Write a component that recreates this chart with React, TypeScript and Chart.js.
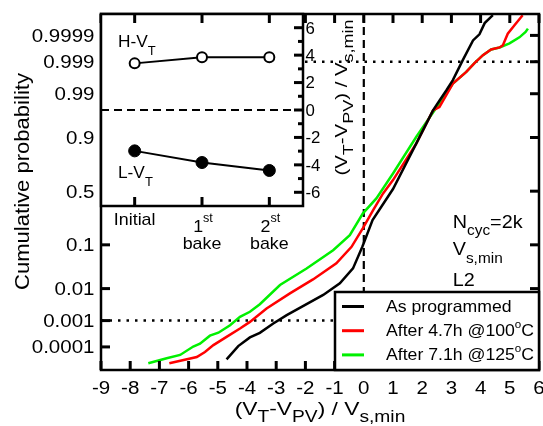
import React, { useEffect, useRef } from "react";
import { Chart, registerables } from "chart.js";

Chart.register(...registerables);

// ---------- data ----------
const xTicks = [-9, -8, -7, -6, -5, -4, -3, -2, -1, 0, 1, 2, 3, 4, 5, 6];
const probTicks = [0.0001, 0.001, 0.01, 0.1, 0.5, 0.9, 0.99, 0.999, 0.9999];
const probTickLabels = ["0.0001", "0.001", "0.01", "0.1", "0.5", "0.9", "0.99", "0.999", "0.9999"];
const guideProbs = [0.001, 0.999];
const guideX = 0;

const blackX = [-4.7, -4.3, -3.9, -3.56, -3.1, -2.64, -1.96, -1.39, -0.82, -0.37, -0.05, 0.3, 1.0, 1.8, 2.37, 2.6, 2.83, 3.05, 3.39, 3.74, 3.96, 4.14, 4.42];
const blackP = [2.95e-5, 1.08e-4, 2.4e-4, 3.6e-4, 7.9e-4, 1.54e-3, 3.5e-3, 6.6e-3, 0.0139, 0.0325, 0.092, 0.245, 0.52, 0.873, 0.9732, 0.985, 0.992, 0.996, 0.99912, 0.99984, 0.99991, 0.99997, 0.9999867];

const redX = [-6.66, -5.72, -5.44, -5.15, -4.7, -4.24, -3.9, -3.33, -2.53, -1.74, -0.94, -0.42, -0.03, 0.32, 0.66, 1.0, 1.8, 2.37, 2.59, 3.05, 3.51, 3.79, 4.08, 4.36, 4.65, 4.76, 4.93, 5.16, 5.44];
const redP = [1.98e-5, 3.75e-5, 6.15e-5, 1.19e-4, 2.51e-4, 5.2e-4, 9.0e-4, 2.56e-3, 7.34e-3, 0.01756, 0.0423, 0.0918, 0.1894, 0.325, 0.478, 0.604, 0.873, 0.9732, 0.9778, 0.99491, 0.99781, 0.99889, 0.99942, 0.99964, 0.9997, 0.99975, 0.999915, 0.999963, 0.9999867];

const greenX = [-7.38, -6.75, -6.29, -5.84, -5.61, -5.27, -4.98, -4.58, -4.24, -3.9, -3.56, -2.87, -1.96, -1.05, -0.48, -0.03, 0.43, 1.0, 1.8, 2.5, 3.05, 3.51, 3.79, 4.08, 4.36, 4.65, 4.99, 5.33, 5.54, 5.62];
const greenP = [1.98e-5, 3.3e-5, 4.6e-5, 1.04e-4, 1.36e-4, 2.8e-4, 3.62e-4, 6.87e-4, 1.35e-3, 1.99e-3, 3.47e-3, 0.01255, 0.0325, 0.0793, 0.1469, 0.298, 0.431, 0.663, 0.903, 0.9778, 0.99491, 0.99781, 0.99889, 0.99942, 0.99964, 0.9997, 0.99979, 0.99988, 0.999928, 0.999948];

const seriesColors = ["#000000", "#ff0000", "#00f000"];
const legendLabels = ["As programmed", "After 4.7h @100°C", "After 7.1h @125°C"];

const insetCategories = ["Initial", "1st bake", "2st bake"];
const highVt = [3.4, 3.84, 3.84];
const lowVt = [-2.98, -3.83, -4.41];
const insetTicks = [-6, -5, -4, -3, -2, -1, 0, 1, 2, 3, 4, 5, 6];
const insetTickLabels = [-6, -4, -2, 0, 2, 4, 6];

// ---------- helpers ----------
const FONT = '"Liberation Sans", Arial, Helvetica, sans-serif';

function probit(p: number): number {
  const a = [-3.969683028665376e1, 2.209460984245205e2, -2.759285104469687e2, 1.38357751867269e2, -3.066479806614716e1, 2.506628277459239];
  const b = [-5.447609879822406e1, 1.615858368580409e2, -1.556989798598866e2, 6.680131188771972e1, -1.328068155288572e1];
  const c = [-7.784894002430293e-3, -3.223964580411365e-1, -2.400758277161838, -2.549732539343734, 4.374664141464968, 2.938163982698783];
  const d = [7.784695709041462e-3, 3.224671290700398e-1, 2.445134137142996, 3.754408661907416];
  const pl = 0.02425;
  if (p < pl) {
    const q = Math.sqrt(-2 * Math.log(p));
    return (((((c[0] * q + c[1]) * q + c[2]) * q + c[3]) * q + c[4]) * q + c[5]) / ((((d[0] * q + d[1]) * q + d[2]) * q + d[3]) * q + 1);
  }
  if (p <= 1 - pl) {
    const q = p - 0.5, r = q * q;
    return ((((((a[0] * r + a[1]) * r + a[2]) * r + a[3]) * r + a[4]) * r + a[5]) * q) / (((((b[0] * r + b[1]) * r + b[2]) * r + b[3]) * r + b[4]) * r + 1);
  }
  const q = Math.sqrt(-2 * Math.log(1 - p));
  return -(((((c[0] * q + c[1]) * q + c[2]) * q + c[3]) * q + c[4]) * q + c[5]) / ((((d[0] * q + d[1]) * q + d[2]) * q + d[3]) * q + 1);
}

type Seg = { t: string; size: number; dy?: number };

function drawRich(ctx: CanvasRenderingContext2D, segs: Seg[], x: number, y: number, align: "left" | "center" | "right", stretch = 1, rot = 0) {
  ctx.save();
  ctx.translate(x, y);
  if (rot) ctx.rotate(rot);
  ctx.scale(stretch, 1);
  ctx.textBaseline = "alphabetic";
  ctx.textAlign = "left";
  ctx.fillStyle = "#000";
  let w = 0;
  const widths = segs.map((s) => {
    ctx.font = `${s.size}px ${FONT}`;
    const m = ctx.measureText(s.t).width;
    w += m;
    return m;
  });
  let cx = align === "left" ? 0 : align === "center" ? -w / 2 : -w;
  segs.forEach((s, i) => {
    ctx.font = `${s.size}px ${FONT}`;
    ctx.fillText(s.t, cx, s.dy || 0);
    cx += widths[i];
  });
  ctx.restore();
}

function line(ctx: CanvasRenderingContext2D, x1: number, y1: number, x2: number, y2: number) {
  ctx.beginPath();
  ctx.moveTo(x1, y1);
  ctx.lineTo(x2, y2);
  ctx.stroke();
}

function titleSegs(main: number, sub: number, dy: number): Seg[] {
  return [
    { t: "(V", size: main },
    { t: "T", size: sub, dy },
    { t: "-V", size: main },
    { t: "PV", size: sub, dy },
    { t: ") / V", size: main },
    { t: "s,min", size: sub, dy },
  ];
}

function degreeSegs(label: string, size: number): Seg[] {
  const parts = label.split("°");
  if (parts.length === 1) return [{ t: label, size }];
  return [
    { t: parts[0], size },
    { t: "o", size: size * 0.66, dy: -8 },
    { t: parts[1], size },
  ];
}

// ---------- plugins ----------
const mainPlugin = {
  id: "mainDeco",
  beforeDatasetsDraw(chart: any) {
    const { ctx, chartArea: a, scales } = chart;
    const x = scales.x, y = scales.y;
    ctx.save();
    ctx.strokeStyle = "#000";
    ctx.lineWidth = 2.2;
    ctx.setLineDash([8, 5]);
    const x0 = x.getPixelForValue(guideX);
    line(ctx, x0, a.top, x0, a.bottom);
    ctx.lineWidth = 2.5;
    ctx.setLineDash([2.5, 6]);
    for (const p of guideProbs) {
      const py = y.getPixelForValue(probit(p));
      line(ctx, a.left, py, a.right, py);
    }
    ctx.restore();
  },
  afterDraw(chart: any) {
    const { ctx, chartArea: a, scales } = chart;
    const x = scales.x, y = scales.y;
    ctx.save();
    ctx.strokeStyle = "#000";
    ctx.setLineDash([]);
    // ticks
    ctx.lineWidth = 3;
    const TL = 9;
    for (const v of xTicks) {
      const px = x.getPixelForValue(v);
      line(ctx, px, a.bottom, px, a.bottom - TL);
      line(ctx, px, a.top, px, a.top + TL);
    }
    for (const p of probTicks) {
      const py = y.getPixelForValue(probit(p));
      line(ctx, a.left, py, a.left + TL, py);
      line(ctx, a.right, py, a.right - TL, py);
    }
    // frame
    ctx.lineWidth = 2.5;
    ctx.strokeRect(a.left, a.top, a.right - a.left, a.bottom - a.top);

    // tick labels
    xTicks.forEach((v) => {
      drawRich(ctx, [{ t: String(v), size: 18 }], x.getPixelForValue(v), a.bottom + 23.5, "center", 1.14);
    });
    probTicks.forEach((p, i) => {
      drawRich(ctx, [{ t: probTickLabels[i], size: 18 }], a.left - 6.5, y.getPixelForValue(probit(p)) + 6.5, "right", 1.14);
    });

    // axis titles
    drawRich(ctx, [{ t: "Cumulative probability", size: 21 }], 29, 181.5, "center", 1.05, -Math.PI / 2);
    drawRich(ctx, titleSegs(19, 16, 6.5), 320, 415, "center", 1.2);

    // legend
    const lx0 = 335, ly0 = 292;
    ctx.fillStyle = "#fff";
    ctx.fillRect(lx0, ly0, a.right - lx0, a.bottom - ly0);
    ctx.lineWidth = 2.5;
    ctx.strokeRect(lx0, ly0, a.right - lx0, a.bottom - ly0);
    legendLabels.forEach((lab, i) => {
      const yy = 306.5 + i * 24.2;
      ctx.strokeStyle = seriesColors[i];
      ctx.lineWidth = 3;
      line(ctx, 342, yy, 364, yy);
      drawRich(ctx, degreeSegs(lab, 16.5), 386, yy + 5, "left", 1.07);
    });

    // annotation
    drawRich(ctx, [{ t: "N", size: 18 }, { t: "cyc", size: 14, dy: 7 }, { t: "=2k", size: 18 }], 452.7, 228.3, "left", 1.1);
    drawRich(ctx, [{ t: "V", size: 18 }, { t: "s,min", size: 14, dy: 7.5 }], 452.7, 255, "left", 1.1);
    drawRich(ctx, [{ t: "L2", size: 18 }], 452.7, 286, "left", 1.1);
    ctx.restore();
  },
};

const insetPlugin = {
  id: "insetDeco",
  beforeDraw(chart: any) {
    const { ctx, chartArea: a, scales } = chart;
    ctx.save();
    ctx.fillStyle = "#fff";
    ctx.fillRect(a.left, a.top, a.right - a.left, a.bottom - a.top);
    ctx.strokeStyle = "#000";
    ctx.lineWidth = 2.2;
    ctx.setLineDash([8, 5]);
    const y0 = scales.y.getPixelForValue(0);
    line(ctx, a.left, y0, a.right, y0);
    ctx.restore();
  },
  afterDraw(chart: any) {
    const { ctx, chartArea: a, scales } = chart;
    const x = scales.x, y = scales.y;
    ctx.save();
    ctx.strokeStyle = "#000";
    ctx.setLineDash([]);
    ctx.lineWidth = 3;
    insetCategories.forEach((_, i) => {
      const px = x.getPixelForValue(i);
      line(ctx, px, a.bottom, px, a.bottom - 9);
      line(ctx, px, a.top, px, a.top + 9);
    });
    insetTicks.forEach((v) => {
      const py = y.getPixelForValue(v);
      const len = v % 2 === 0 ? 9 : 5;
      line(ctx, a.right, py, a.right - len, py);
    });
    ctx.lineWidth = 2.5;
    ctx.strokeRect(a.left, a.top, a.right - a.left, a.bottom - a.top);

    insetTickLabels.forEach((v) => {
      drawRich(ctx, [{ t: String(v), size: 16 }], a.right + 2.5, y.getPixelForValue(v) + 5.8, "left", 1.05);
    });
    drawRich(ctx, titleSegs(17, 15, 6), 346.7, 97.5, "center", 1.2, -Math.PI / 2);

    drawRich(ctx, [{ t: "H-V", size: 16 }, { t: "T", size: 12, dy: 8 }], a.left + 17, 46.7, "left", 1.08);
    drawRich(ctx, [{ t: "L-V", size: 16 }, { t: "T", size: 12, dy: 8 }], a.left + 17, 178.3, "left", 1.08);

    insetCategories.forEach((lab, i) => {
      const px = x.getPixelForValue(i);
      const m = lab.match(/^(\d)(st|nd|rd|th)\s(.*)$/);
      if (m) {
        drawRich(ctx, [{ t: m[1], size: 17 }, { t: m[2], size: 12, dy: -10 }], px + 1, a.bottom + 25.7, "center", 1.05);
        drawRich(ctx, [{ t: m[3], size: 17 }], px, a.bottom + 43.3, "center", 1.05);
      } else {
        drawRich(ctx, [{ t: lab, size: 17 }], px, a.bottom + 18.5, "center", 1.05);
      }
    });
    ctx.restore();
  },
};

function toPoints(xs: number[], ps: number[]) {
  return xs.map((v, i) => ({ x: v, y: probit(ps[i]) }));
}

export default function App() {
  const mainRef = useRef<HTMLCanvasElement>(null);
  const insetRef = useRef<HTMLCanvasElement>(null);

  useEffect(() => {
    const series = [
      { label: legendLabels[0], data: toPoints(blackX, blackP) },
      { label: legendLabels[1], data: toPoints(redX, redP) },
      { label: legendLabels[2], data: toPoints(greenX, greenP) },
    ];
    const main = new Chart(mainRef.current as HTMLCanvasElement, {
      type: "line",
      data: {
        datasets: series.map((s, i) => ({
          label: s.label,
          data: s.data,
          borderColor: seriesColors[i],
          borderWidth: 2.5,
          pointRadius: 0,
          fill: false,
          tension: 0,
        })),
      },
      options: {
        responsive: false,
        animation: false,
        devicePixelRatio: 1,
        layout: { padding: { left: 101, top: 14, right: 4, bottom: 56 } },
        scales: {
          x: { type: "linear", min: -9, max: 6, display: false },
          y: { type: "linear", min: -4.27, max: 4.23, display: false },
        },
        plugins: { legend: { display: false }, tooltip: { enabled: false } },
      },
      plugins: [mainPlugin],
    } as any);

    const inset = new Chart(insetRef.current as HTMLCanvasElement, {
      type: "line",
      data: {
        datasets: [
          {
            label: "H-VT",
            data: highVt.map((v, i) => ({ x: i, y: v })),
            borderColor: "#000",
            borderWidth: 2,
            pointRadius: 5,
            pointBorderWidth: 2,
            pointBackgroundColor: "#fff",
            pointBorderColor: "#000",
            tension: 0,
          },
          {
            label: "L-VT",
            data: lowVt.map((v, i) => ({ x: i, y: v })),
            borderColor: "#000",
            borderWidth: 2,
            pointRadius: 6,
            pointBorderWidth: 1,
            pointBackgroundColor: "#000",
            pointBorderColor: "#000",
            tension: 0,
          },
        ],
      },
      options: {
        responsive: false,
        animation: false,
        devicePixelRatio: 1,
        layout: { padding: { left: 101, top: 14, right: 240, bottom: 220 } },
        scales: {
          x: { type: "linear", min: -0.5, max: 2.5, display: false },
          y: { type: "linear", min: -7, max: 7, display: false },
        },
        plugins: { legend: { display: false }, tooltip: { enabled: false } },
      },
      plugins: [insetPlugin],
    } as any);

    return () => {
      main.destroy();
      inset.destroy();
    };
  }, []);

  return (
    <div style={{ position: "absolute", left: 0, top: 0, width: 543, height: 426, background: "#fff" }}>
      <canvas ref={mainRef} width={543} height={426} style={{ position: "absolute", left: 0, top: 0 }} />
      <canvas ref={insetRef} width={543} height={426} style={{ position: "absolute", left: 0, top: 0 }} />
    </div>
  );
}
